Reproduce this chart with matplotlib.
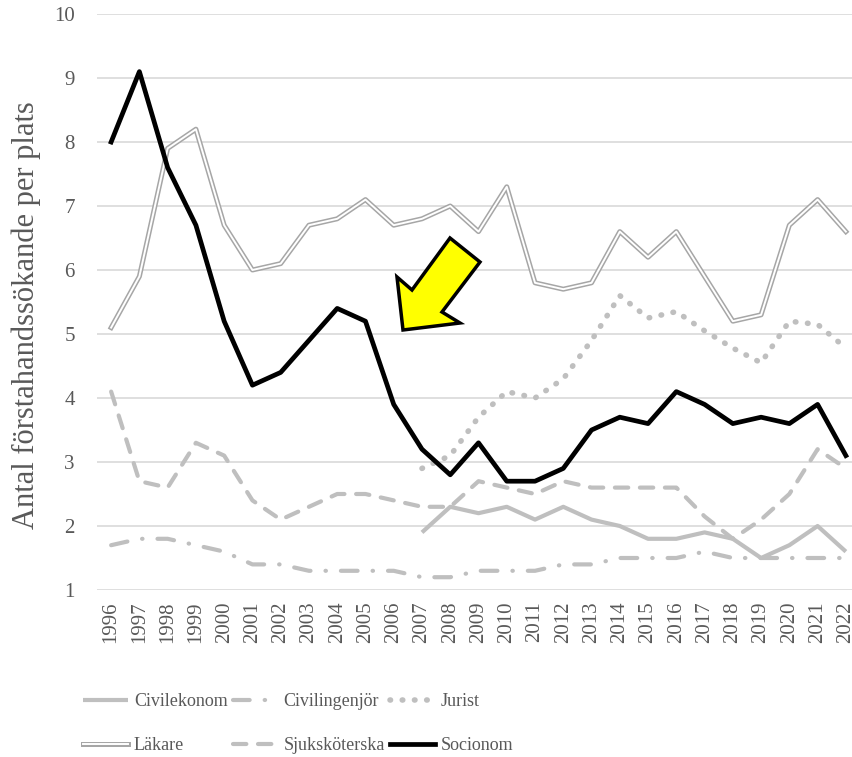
import matplotlib
matplotlib.use('Agg')
from matplotlib import pyplot as plt
from matplotlib.patches import Polygon
from matplotlib.legend_handler import HandlerTuple
import numpy as np

plt.rcParams['font.family'] = ['Liberation Serif', 'DejaVu Serif']

years = [str(y) for y in range(1996, 2023)]

socionom = [8.0, 9.1, 7.6, 6.7, 5.2, 4.2, 4.4, 4.9, 5.4, 5.2, 3.9, 3.2, 2.8, 3.3,
            2.7, 2.7, 2.9, 3.5, 3.7, 3.6, 4.1, 3.9, 3.6, 3.7, 3.6, 3.9, 3.1]
lakare = [5.1, 5.9, 7.9, 8.2, 6.7, 6.0, 6.1, 6.7, 6.8, 7.1, 6.7, 6.8, 7.0, 6.6,
          7.3, 5.8, 5.7, 5.8, 6.6, 6.2, 6.6, 5.9, 5.2, 5.3, 6.7, 7.1, 6.6]
sjukskoterska = [4.1, 2.7, 2.6, 3.3, 3.1, 2.4, 2.1, 2.3, 2.5, 2.5, 2.4, 2.3, 2.3, 2.7,
                 2.6, 2.5, 2.7, 2.6, 2.6, 2.6, 2.6, 2.15, 1.8, 2.1, 2.5, 3.2, 2.9]
civilingenjor = [1.7, 1.8, 1.8, 1.7, 1.6, 1.4, 1.4, 1.3, 1.3, 1.3, 1.3, 1.2, 1.2, 1.3,
                 1.3, 1.3, 1.4, 1.4, 1.5, 1.5, 1.5, 1.6, 1.5, 1.5, 1.5, 1.5, 1.5]
# Jurist and Civilekonom start in 2007
jurist = [None] * 11 + [2.9, 3.1, 3.7, 4.1, 4.0, 4.3, 4.9, 5.6, 5.25, 5.35, 5.05,
                        4.78, 4.55, 5.2, 5.15, 4.78]
civilekonom = [None] * 11 + [1.9, 2.3, 2.2, 2.3, 2.1, 2.3, 2.1, 2.0, 1.8, 1.8, 1.9,
                             1.8, 1.5, 1.7, 2.0, 1.6]


def arr(vals):
    return np.array([np.nan if v is None else v for v in vals], dtype=float)


W, H = 853, 757
fig = plt.figure(figsize=(W / 100, H / 100), dpi=100)
ax = fig.add_axes([97 / W, (H - 590) / H, (860 - 97) / W, 576 / H])

x = np.arange(len(years))
gray = '#BFBFBF'
txt = '#595959'

l_civek, = ax.plot(x, arr(civilekonom), color=gray, lw=3.0, solid_capstyle='butt')
l_civing, = ax.plot(x, arr(civilingenjor), color=gray, lw=3.0,
                    dashes=(4.0, 3.6, 0.1, 3.6), dash_capstyle='round')
l_jur, = ax.plot(x, arr(jurist), color=gray, lw=4.0, dashes=(0.1, 2.1),
                 dash_capstyle='round')
l_lak_o, = ax.plot(x, arr(lakare), color='#A6A6A6', lw=3.6)
l_lak_i, = ax.plot(x, arr(lakare), color='white', lw=1.4)
l_sjuk, = ax.plot(x, arr(sjukskoterska), color=gray, lw=3.0, dashes=(3.2, 2.8),
                  dash_capstyle='round')
l_soc, = ax.plot(x, arr(socionom), color='black', lw=3.4)

ax.set_xlim(-0.5, len(years) - 0.5)
ax.set_ylim(1, 10)
ax.set_yticks(range(1, 11))
ax.set_xticks(x)
ax.set_xticklabels(years, rotation=90)
ax.grid(axis='y', color='#D9D9D9', lw=1.2)
ax.set_axisbelow(True)
for s in ax.spines.values():
    s.set_visible(False)
ax.tick_params(axis='both', length=0, colors=txt)
ax.tick_params(axis='y', pad=16, labelsize=15)
ax.tick_params(axis='x', pad=8, labelsize=15)
ax.set_ylabel('Antal förstahandssökande per plats', fontsize=22, color=txt)
ax.yaxis.set_label_coords(-0.073, 0.478)

# yellow block arrow (figure pixel coords)
pts = [(450, 238), (480, 262), (442, 312), (460, 323), (403, 330), (397, 277), (412, 290)]
poly = Polygon([(px / W, 1 - py / H) for px, py in pts], closed=True,
               facecolor='#FFFF00', edgecolor='black', lw=2.5,
               transform=fig.transFigure, zorder=10)
fig.patches.append(poly)

# column-major order so rows read Civilekonom, Civilingenjör, Jurist / Läkare, ...
handles = [l_civek, (l_lak_o, l_lak_i), l_civing, l_sjuk, l_jur, l_soc]
labels = ['Civilekonom', 'Läkare', 'Civilingenjör', 'Sjuksköterska', 'Jurist', 'Socionom']
leg = fig.legend(handles, labels, ncol=3, loc='upper left',
                 bbox_to_anchor=(67 / W, 1 - 677 / H), frameon=False,
                 fontsize=13, handlelength=2.5, handletextpad=0.3,
                 columnspacing=0.3, labelspacing=1.5,
                 handler_map={tuple: HandlerTuple(ndivide=1)})
for t in leg.get_texts():
    t.set_color(txt)

fig.savefig('out.png', dpi=100)
